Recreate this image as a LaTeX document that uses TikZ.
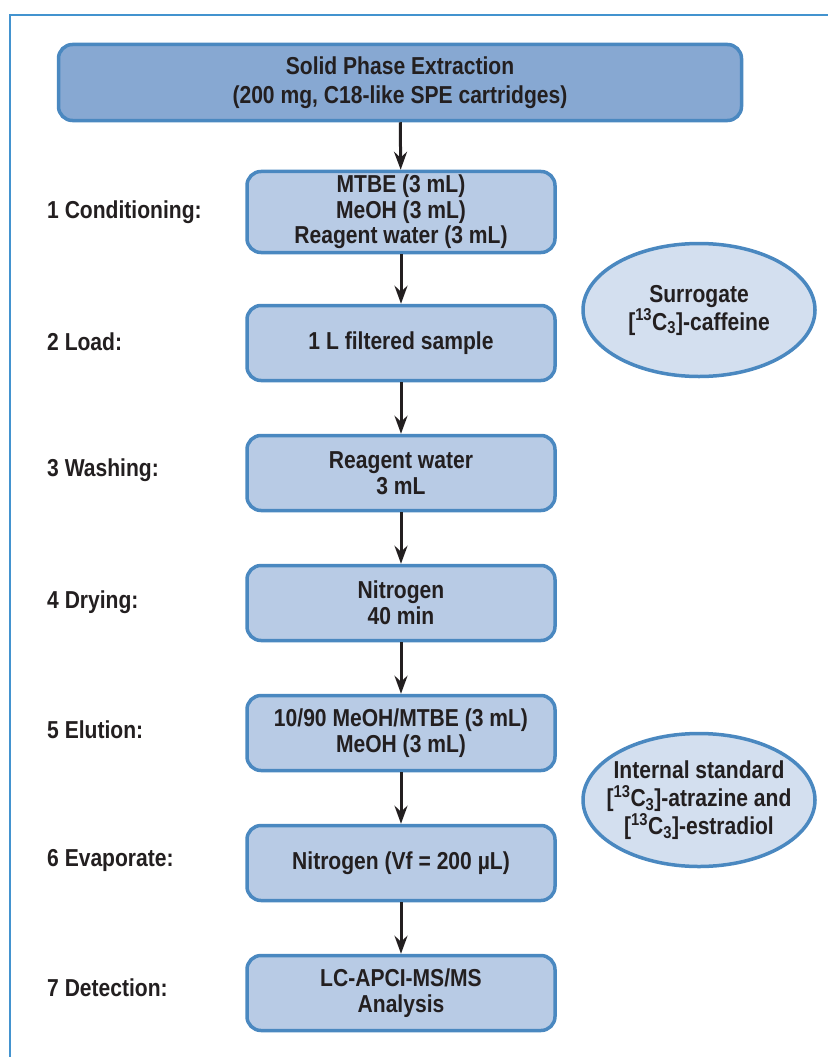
\documentclass[tikz,border=0pt]{standalone}
\usepackage{fontspec}
\setmainfont{Liberation Sans}[FakeStretch=0.86]
\usepackage{tikz}
\usetikzlibrary{shapes.geometric, arrows.meta}
\usepackage{xcolor}
\definecolor{edgeblue}{HTML}{4A88C0}
\definecolor{topfill}{HTML}{87A8D2}
\definecolor{stepfill}{HTML}{B8CBE5}
\definecolor{ovalfill}{HTML}{D3DFEF}
\definecolor{framecol}{HTML}{4393CF}
\definecolor{ink}{HTML}{231F20}

\tikzset{
    stepbox/.style = {draw=edgeblue, fill=stepfill, line width=3.5pt, rounded corners=14pt,
        minimum width=308pt, minimum height=75pt, align=center, text=ink,
        font=\fontsize{24.5}{25.7}\selectfont\bfseries},
    topbox/.style = {stepbox, fill=topfill, minimum width=683pt, minimum height=76pt,
        font=\fontsize{24.5}{29.5}\selectfont\bfseries},
    oval/.style = {ellipse, draw=edgeblue, fill=ovalfill, line width=3.5pt,
        minimum width=232pt, minimum height=133pt, inner sep=-14pt, align=center, text=ink,
        font=\fontsize{24.5}{28}\selectfont\bfseries},
    steplabel/.style = {anchor=west, inner sep=0pt, text=ink,
        font=\fontsize{24.5}{25}\selectfont\bfseries},
    flowarrow/.style = {draw=ink, line width=3pt, -{Stealth[length=18pt,width=13pt,inset=6pt]}}
}

\begin{document}
\begin{tikzpicture}[x=1pt,y=-1pt]
        \useasboundingbox (0,0) rectangle (828,1057);
        \draw[framecol, line width=1.3pt] (10,1057) -- (10,15) -- (828,15);

        \node[topbox] (spe) at (400,82.5) {Solid Phase Extraction\\(200 mg, C18-like SPE cartridges)};

        \node[stepbox] (s1) at (401,212) {MTBE (3 mL)\\MeOH (3 mL)\\Reagent water (3 mL)};
        \node[stepbox] (s2) at (401,343) {1 L filtered sample};
        \node[stepbox] (s3) at (401,473) {Reagent water\\3 mL};
        \node[stepbox] (s4) at (401,603) {Nitrogen\\40 min};
        \node[stepbox] (s5) at (401,733) {10/90 MeOH/MTBE (3 mL)\\MeOH (3 mL)};
        \node[stepbox] (s6) at (401,863) {Nitrogen (Vf = 200 µL)};
        \node[stepbox] (s7) at (401,993) {LC-APCI-MS/MS\\Analysis};

        \node[steplabel] (l1) at (47,212) {1 Conditioning:};
        \node[steplabel] (l2) at (47,342) {2 Load:};
        \node[steplabel] (l3) at (47,470) {3 Washing:};
        \node[steplabel] (l4) at (47,602) {4 Drying:};
        \node[steplabel] (l5) at (47,730) {5 Elution:};
        \node[steplabel] (l6) at (47,860) {6 Evaporate:};
        \node[steplabel] (l7) at (47,988) {7 Detection:};

        \node[oval] (sur) at (699,310) {Surrogate\\{[}\textsuperscript{13}C\textsubscript{3}]-caffeine};
        \node[oval] (istd) at (699,800) {Internal standard\\{[}\textsuperscript{13}C\textsubscript{3}]-atrazine and\\{[}\textsuperscript{13}C\textsubscript{3}]-estradiol};

        \draw[flowarrow] (spe) -- (s1);
        \draw[flowarrow] (s1) -- (s2);
        \draw[flowarrow] (s2) -- (s3);
        \draw[flowarrow] (s3) -- (s4);
        \draw[flowarrow] (s4) -- (s5);
        \draw[flowarrow] (s5) -- (s6);
        \draw[flowarrow] (s6) -- (s7);
    \end{tikzpicture}
\end{document}
